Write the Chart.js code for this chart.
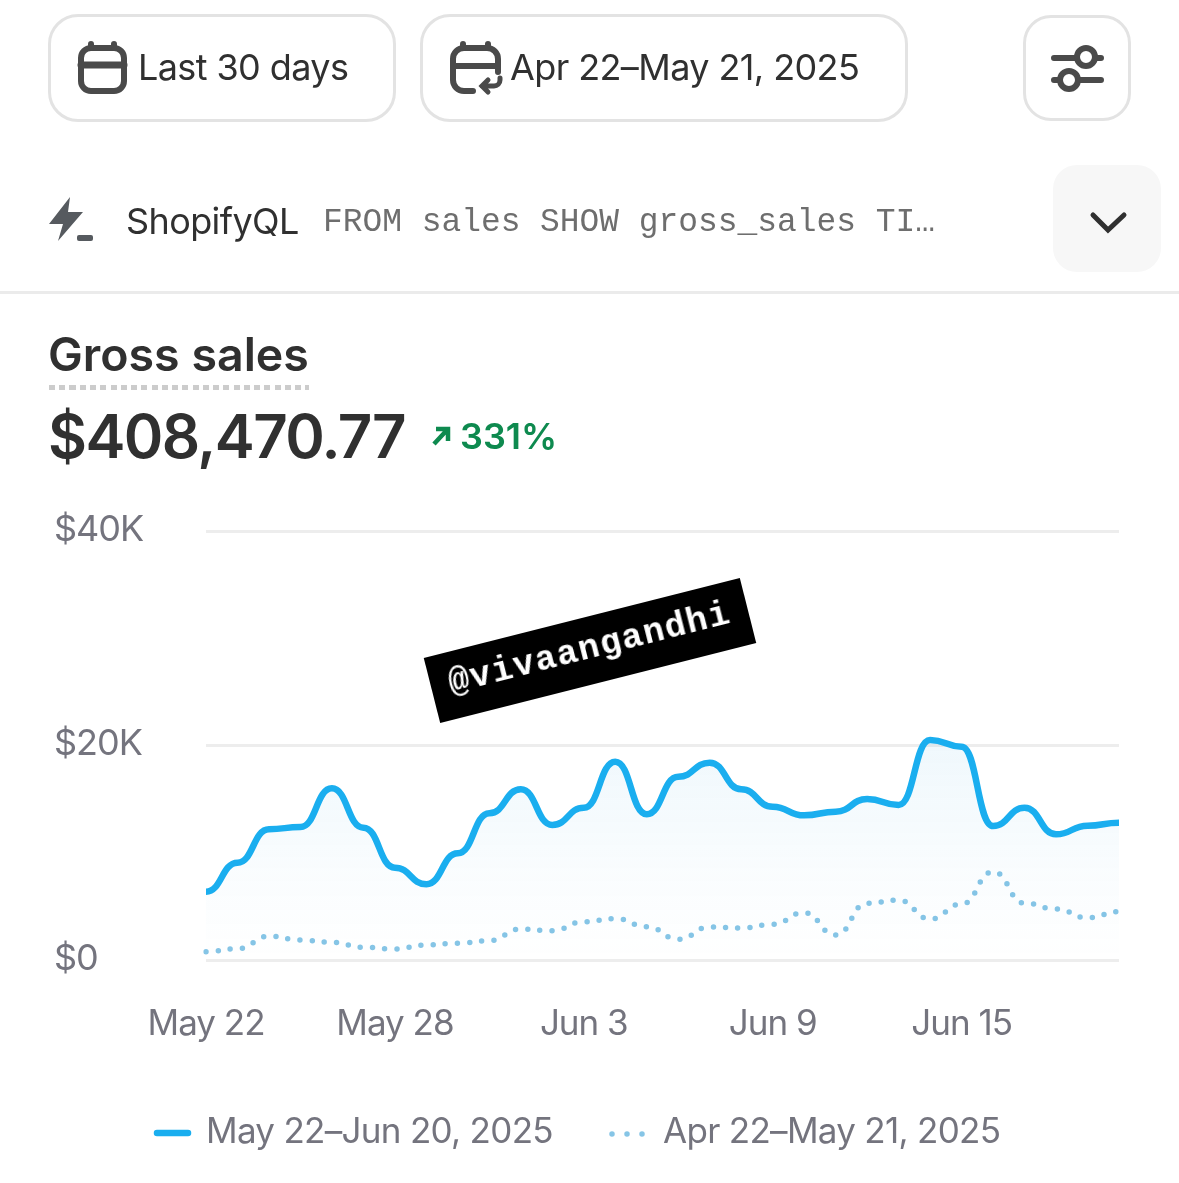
<!DOCTYPE html>
<html>
<head>
<meta charset="utf-8">
<title>Gross sales</title>
<script src="https://cdn.jsdelivr.net/npm/chart.js@4"></script>
<style>
html, body { margin: 0; padding: 0; background: #fff; }
body { position: relative; width: 1179px; height: 1183px; overflow: hidden; font-family: Inter, sans-serif; color: #303030; }
#salesChart { position: absolute; left: 0; top: 0; }
.abs { position: absolute; white-space: nowrap; line-height: 1; }
.btn { position: absolute; box-sizing: border-box; border: 3px solid #e3e3e3; background: #fff; }
svg.abs { overflow: visible; fill: none; }
#stamp { position: absolute; left: 427px; top: 617px; width: 326px; height: 67px; background: #000; color: #fff;
    transform: rotate(-14.2deg); font: bold 35px "Liberation Mono", monospace; letter-spacing: 1.3px; line-height: 65px; text-align: center; }
</style>
</head>
<body>
<canvas id="salesChart" width="1179" height="1183"></canvas>

<div class="btn" style="left:48px;top:14px;width:348px;height:108px;border-radius:30px"></div>
<div class="btn" style="left:420px;top:14px;width:488px;height:108px;border-radius:30px"></div>
<div class="btn" style="left:1023px;top:15px;width:108px;height:106px;border-radius:28px"></div>
<div class="abs" style="left:1053px;top:165px;width:108px;height:107px;border-radius:24px;background:#f7f7f7"></div>

<svg class="abs" style="left:0;top:0" width="1179" height="300" stroke="#4a4a4a" stroke-width="6" stroke-linecap="round">
    <rect x="81" y="48" width="43" height="43" rx="10"/>
    <path d="M81 65H124" stroke-width="7"/>
    <path d="M91 44v4M114 44v4"/>
    <path d="M473 91H464a11 11 0 0 1-11-11V59a11 11 0 0 1 11-11h23a11 11 0 0 1 11 11v13M453 66H498" />
    <path d="M463 44v4M488 44v4"/>
    <path d="M500 78v2a6 6 0 0 1-6 6H482M488 80l-6 6 6 6" stroke-width="5"/>
    <path d="M1054 58H1075M1096 58H1101M1054 80H1059M1080 80H1101"/>
    <circle cx="1086" cy="57" r="9"/>
    <circle cx="1069" cy="80" r="9"/>
    <path d="M1093 215L1108 230L1124 215" stroke="#303030" stroke-width="5"/>
</svg>
<svg class="abs" style="left:0;top:0" width="200" height="300">
    <path d="M70 197L49 224H63L58 241L83 212H68Z" fill="#565a5f"/>
    <rect x="77" y="235" width="16" height="6" rx="2" fill="#565a5f"/>
</svg>

<div class="abs" style="left:138px;top:49px;font-size:36px;letter-spacing:-0.6px">Last 30 days</div>
<div class="abs" style="left:510px;top:49px;font-size:36px;letter-spacing:-0.6px">Apr 22–May 21, 2025</div>
<div class="abs" style="left:126px;top:203px;font-size:36px;letter-spacing:-0.6px">ShopifyQL</div>
<div class="abs" style="left:323px;top:204px;font:32.9px 'Liberation Mono', monospace;color:#6e6e6e">FROM sales SHOW gross_sales TI…</div>
<div class="abs" style="left:0;top:291px;width:1179px;height:3px;background:#ebebeb"></div>

<div class="abs" style="left:48px;top:331px;font-size:46.5px;font-weight:600">Gross sales</div>
<div class="abs" style="left:49px;top:385px;width:260px;height:5px;background:repeating-linear-gradient(90deg,#cccccc 0 6px,transparent 6px 10.25px)"></div>
<div class="abs" style="left:48px;top:406px;font-size:60px;font-weight:600;letter-spacing:-1.6px">$408,470.77</div>
<svg class="abs" style="left:0;top:400px" width="470" height="60" stroke="#0e8a4f" stroke-width="4.5">
    <path d="M434 44L447 30M436 29H448V41"/>
</svg>
<div class="abs" style="left:460px;top:418px;font-size:36px;font-weight:600;color:#0e8a4f">331%</div>

<div id="stamp">@vivaangandhi</div>

<svg class="abs" style="left:0;top:1110px" width="700" height="50">
    <path d="M157 23H188" stroke="#1aaeef" stroke-width="6.5" stroke-linecap="round"/>
    <path d="M612 24H643" stroke="#86c5e6" stroke-width="5.5" stroke-linecap="round" stroke-dasharray="0 15"/>
</svg>
<div class="abs" id="legendCurrent" style="left:206px;top:1113px;font-size:35px;letter-spacing:-0.7px;color:#74747e"></div>
<div class="abs" id="legendPrevious" style="left:663px;top:1113px;font-size:35px;letter-spacing:-0.7px;color:#74747e"></div>

<script>
// Day labels of the current period
const days = [
    'May 22', 'May 23', 'May 24', 'May 25', 'May 26', 'May 27', 'May 28', 'May 29', 'May 30', 'May 31',
    'Jun 1', 'Jun 2', 'Jun 3', 'Jun 4', 'Jun 5', 'Jun 6', 'Jun 7', 'Jun 8', 'Jun 9', 'Jun 10',
    'Jun 11', 'Jun 12', 'Jun 13', 'Jun 14', 'Jun 15', 'Jun 16', 'Jun 17', 'Jun 18', 'Jun 19', 'Jun 20'
];
const currentSales = [
    6370, 9070, 12190, 12400, 16010, 12340, 8610, 7060, 9950, 13680,
    15920, 12590, 14200, 18490, 13590, 17090, 18400, 15920, 14290, 13490,
    13830, 15010, 14450, 20510, 19890, 12490, 14200, 11720, 12520, 12800
];
const previousSales = [
    770, 1050, 2210, 1860, 1650, 1180, 1030, 1400, 1560, 1800,
    2890, 2730, 3570, 3850, 3100, 1930, 3080, 2980, 3330, 4410,
    2330, 5290, 5590, 3820, 5220, 8230, 5290, 4750, 3940, 4500
];
const currentLabel = 'May 22–Jun 20, 2025';
const previousLabel = 'Apr 22–May 21, 2025';
const yTickLabels = { 0: '$0', 20000: '$20K', 40000: '$40K' };

document.getElementById('legendCurrent').textContent = currentLabel;
document.getElementById('legendPrevious').textContent = previousLabel;

function areaFill(context) {
    const area = context.chart.chartArea;
    if (!area) return 'transparent';
    const gradient = context.chart.ctx.createLinearGradient(0, context.chart.scales.y.getPixelForValue(20000), 0, area.bottom);
    gradient.addColorStop(0, 'rgba(26, 150, 215, 0.065)');
    gradient.addColorStop(0.6, 'rgba(26, 150, 215, 0.022)');
    gradient.addColorStop(1, 'rgba(26, 150, 215, 0)');
    return gradient;
}

// The lines flatten out at every day, so the tangents are forced horizontal
const flatTangents = {
    id: 'flatTangents',
    beforeDatasetsDraw(chart) {
        chart.getSortedVisibleDatasetMetas().forEach(meta => {
            const line = meta.dataset;
            line.updateControlPoints(chart.chartArea, 'x');
            const points = line.points;
            points.forEach((point, i) => {
                const prev = points[i - 1] || point;
                const next = points[i + 1] || point;
                point.cp1x = point.x - (point.x - prev.x) * 0.5;
                point.cp1y = point.y;
                point.cp2x = point.x + (next.x - point.x) * 0.5;
                point.cp2y = point.y;
            });
        });
    }
};

// Tick text runs a little narrower than Inter
const tightText = {
    id: 'tightText',
    beforeDraw(chart) {
        chart.ctx.letterSpacing = '-1px';
    }
};

new Chart(document.getElementById('salesChart'), {
    type: 'line',
    plugins: [tightText, flatTangents],
    data: {
        labels: days,
        datasets: [
            {
                label: currentLabel,
                data: currentSales,
                borderColor: '#1aaeef',
                borderWidth: 6.5,
                backgroundColor: areaFill,
                fill: 'origin',
                cubicInterpolationMode: 'monotone',
                pointRadius: 0,
                borderCapStyle: 'butt'
            },
            {
                label: previousLabel,
                data: previousSales,
                borderColor: '#86c5e6',
                borderWidth: 5.5,
                borderDash: [0, 12.2],
                borderCapStyle: 'round',
                cubicInterpolationMode: 'monotone',
                pointRadius: 0,
                fill: false
            }
        ]
    },
    options: {
        responsive: false,
        animation: false,
        layout: { padding: { left: 54, right: 60, top: 531, bottom: 120 } },
        plugins: { legend: { display: false }, tooltip: { enabled: false } },
        scales: {
            x: {
                offset: false,
                border: { display: false },
                grid: { display: false },
                afterFit: scale => { scale.height = 103; },
                ticks: {
                    autoSkip: false,
                    maxRotation: 0,
                    padding: 35,
                    color: '#74747e',
                    font: { family: 'Inter', size: 35 },
                    callback: function(value, index) {
                        return index % 6 === 0 ? days[index] : null;
                    }
                }
            },
            y: {
                min: 0,
                max: 40000,
                border: { display: false },
                afterFit: scale => { scale.width = 152; },
                grid: { color: '#ededed', lineWidth: 3, drawTicks: false },
                ticks: {
                    stepSize: 20000,
                    crossAlign: 'far',
                    labelOffset: -1,
                    color: '#74747e',
                    font: { family: 'Inter', size: 36 },
                    callback: value => yTickLabels[value]
                }
            }
        }
    }
});
</script>
</body>
</html>
